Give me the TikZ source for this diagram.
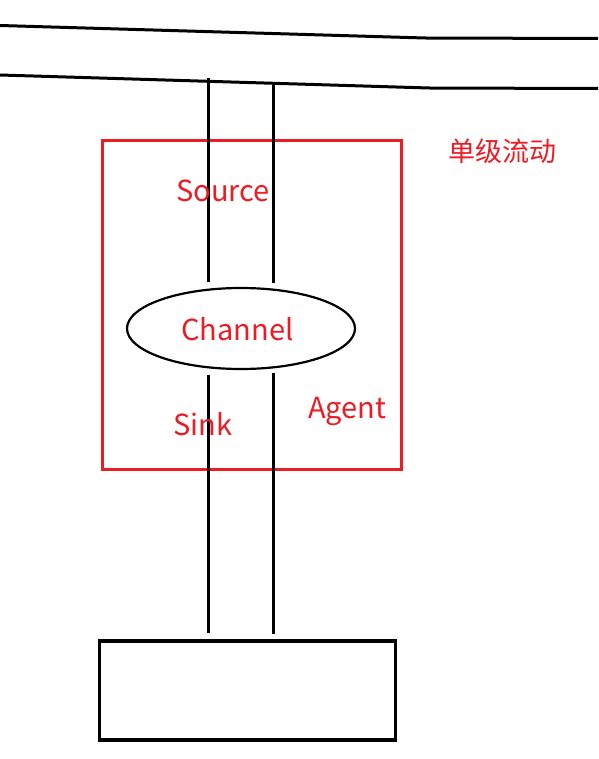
\documentclass[tikz,border=0pt]{standalone}
\usepackage{fontspec}
\setmainfont{Noto Sans CJK SC}
\newfontfamily\cjk{Noto Sans CJK SC}
\usetikzlibrary{shapes.geometric}
\definecolor{paintred}{RGB}{237,28,36}
\tikzset{
  blk/.style={line width=3pt},
  lbl/.style={text=paintred, inner sep=0pt, anchor=base west, font=\fontsize{29}{29}\selectfont},
}
\begin{document}
\begin{tikzpicture}[x=1pt,y=-1pt]
\useasboundingbox (0,0) rectangle (598,759);
\fill[white] (0,0) rectangle (598,759);
% top lines
\draw[blk] (0,25.5) -- (425,38) -- (598,38.5);
\draw[blk] (0,75) -- (429,88) -- (598,88.5);
% red agent box
\node[draw=paintred, line width=2.6pt, minimum width=299pt, minimum height=329pt, inner sep=0pt] (agent) at (252,305) {};
% channel ellipse
\node[ellipse, draw, line width=2.2pt, minimum width=228pt, minimum height=81pt, inner sep=0pt] (channel) at (241,328.5) {};
% vertical line endpoints
\coordinate (la) at (208,78);
\coordinate (lb) at (208,282);
\coordinate (lc) at (208,375);
\coordinate (ld) at (208,633);
\coordinate (ra) at (273.5,85);
\coordinate (rb) at (273.5,283);
\coordinate (rc) at (273.5,373);
\coordinate (rd) at (273.5,634);
\draw[blk] (la) -- (lb);
\draw[blk] (lc) -- (ld);
\draw[blk] (ra) -- (rb);
\draw[blk] (rc) -- (rd);
% bottom box
\node[draw, line width=3.3pt, minimum width=296pt, minimum height=99pt, inner sep=0pt] (store) at (247.5,690.5) {};
% labels
\node[lbl] (source) at (176,201) {Source};
\node[lbl] (chlabel) at (181,340) {Channel};
\node[lbl] (sink) at (173,435) {Sink};
\node[lbl] (agentlbl) at (308,418) {Agent};
\node[text=paintred, inner sep=0pt, font=\cjk\fontsize{27}{27}\selectfont] (title) at (502,151) {单级流动};
\end{tikzpicture}
\end{document}
